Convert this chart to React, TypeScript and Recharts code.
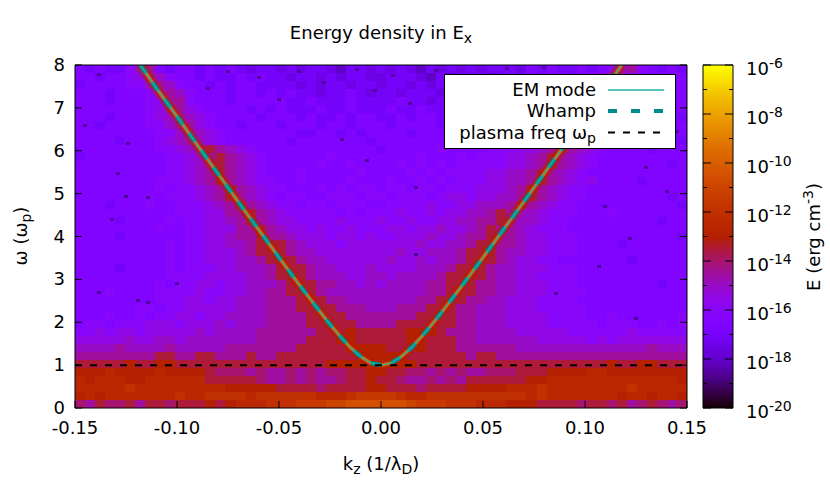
import React from 'react';
import { ComposedChart, Scatter, Line, XAxis, YAxis, Legend } from 'recharts';

const FONT = '"DejaVu Sans", sans-serif';
const W = 830, H = 498;
const PLOT = { left: 75, right: 687, top: 65, bottom: 408 };
const BAR = { left: 703, right: 733 };

const xTicks = [-0.15, -0.1, -0.05, 0, 0.05, 0.1, 0.15];
const yTicks = [0, 1, 2, 3, 4, 5, 6, 7, 8];
const barTicks = [-20, -19, -18, -17, -16, -15, -14, -13, -12, -11, -10, -9, -8, -7, -6];

// log10(E) for each letter of the table below
const levelCodes = 'abcdefghijklmnopqrs'.split('');
const levelExponents = [-19, -18, -17.5, -17, -16.5, -16, -15.5, -15, -14.5, -14, -13.5, -13, -12.5, -12, -11.5, -11, -10.5, -10, -9.5];

// energy density: one row per omega bin (top to bottom), one letter per kz bin
const energyRows = [
  'ededdfhied eedededcdd cdcddcbddc dcdcbdcdcd cdddcededd edefhifede d',
  'eedeefgihf eededdeded dcddcdcddc cdddcbdcdd dcdededeed efgihfedee e',
  'deeeeffhih feededeedd ddcdcddcdd cddcdcddcd ddedeeedee ghihgfeede e',
  'eeedeeefhi hfeeedeede deddcddedc ddcdddcded deeedeeefg ghihfeeede e',
  'eeedeeeffi ifeeedeeee eddedddedd ddeddcdded eeeeeeeffg hihgfeeede e',
  'eeeeeeefgi igfeeeeded edddeddedd deddeddded deeeeeeffg iigfeeedee e',
  'eeedeeefgh ihgfeeeede eededdedee ddedeedeed eeeeeeffgh ihgfeeeeee d',
  'eedeeeeffh iigfeedeee deeedeedee edeeeedeee eeeeeffggi ihgfeedeee e',
  'eeeeeeeeff hihgfeeeee eeddeedede eeedeeeeee eeeffgghii hgfeeedeee e',
  'eeeedeeefg hihgfeeeee edeeeeeeed eeeeeeeeef eefffgghik igfeeeeeee d',
  'eeeeeeeeff ghikihgfee eeeeeeeeee deeeeefeee efffgghiki hgfeeeedee e',
  'deeeeeeeef fghikihgfe eeeeefeeee eeeefeeefe fffgghikih gfeeeeeeee e',
  'eeeeeeeeef fghikihgfe eeeefeefee eefefefeff fffgghikih gfeeeeeeed e',
  'eeeeeeeeef fghikihgfe eefeeeeefe eeefefefff fgghhikihg feeeeeeeee e',
  'eeeeeeeeff fghikihgff eefeeeefee efeefefeff fgghhikihg fgeeeedeee e',
  'eeeeeeeefe ffghikihgf feeefefeff effeffefff ggghikihgf feeeeeeeee e',
  'eeeeeeefef ffghikihgf effeefffef fefffefggf gghhikihgf feeeeeeeed e',
  'eeedeeefee fffghikihg ffeffefffe effffgffgg hhhikihgff eeeeeeeeee d',
  'eeeeeeeeee fffggiikih gfffffefef ffgffgfggh hikihhgfff eeefeeeeee e',
  'eeeedeeeef effgghikih ggffffgfff gffgffgghh iikihhgffe eeeeeeeede e',
  'eeeeeeeefe effgggiiki hggfgffgff fggfgghggh ikiihgfffe eeeeeeeeee e',
  'eeeedeeeee effgghiiki ihgggfggfg ffggghgghi ikiihggfff eeeeeeeeee d',
  'eeeeeeeeef effgghhikk kihgggfggg gggghgghhi kkiihggfff eeeedeeeee e',
  'eeeeeeeeef effggghikk kihhgggggg gghgghhhik kkihhggfff eeeeeeeeee e',
  'eeeeeeeeef effggghhik kkihhggggg ghgghghhik kkihggffee eeeeedeeee e',
  'eeeedeeeef efffgghhhi kkkihhgggh gggghhhikk kihhgggfff eeeeeeeeee e',
  'eeeeeeeeef fffgggghhi kkkihhhggh hghhhhikkk kihhggffff eeeeeeeeee e',
  'eeeeeeeefe ffggfgghhh ikkkiihhgh ghhhhiikkk iihhgggfff eeeeeeeede e',
  'eeefeeeeff ffgffgghhi ikkkihhhhh hhhhhiikkk iihhgggfff feeeeeeeee e',
  'eeeeeeeeff fggfgghhhi iikkkiihhh hhhhiikkki ihhgggffff eeeeeeeeee e',
  'eeeeeeffef fggggghhhi iikkkkiiih hhiiikkkii hhhgggffff feeeeeeeee e',
  'eeefeefeff ggfgghhhhi iiikkkkiii iiiikkkkii hhhggggfff feefeeeeee f',
  'effefffggg fggghghhhi iiikkkkkii iikkkkkkii hhhggggfff ffefffeefe f',
  'ffgfggfggg gghghhhhii iiiikkklkk kkklllkiii hhhhgggggf fffffgffff f',
  'ggggghgghh ghhhhhhhii iiikkkllkk kkkllkkkii hhhhhhgggg gfgfgggggg g',
  'hhhhihhhhi hhhhhiiiii iikkkkklll lkkklkkkii iiiihhhhhh hhhhhhhihh h',
  'iiiiiiiikk iikkiiikii kkkkkkkkll lllkkkkkki kkiiiiiiii iiiiiiiiii i',
  'kkkkklkkll kkkkkkkkkk kkkkkllllm mmllkkkkkk kkkkkkkkkk kkklkkllkk k',
  'lllmllllml lllkjjjiji ijijijjkkl lkkjjijiji ijjjkkklll lmmlllllll l',
  'mlmmmllmmm mmmkkkkkji ijijiijkkl kkjiijijik kkkkkllmmm mmmmmmmmmm l',
  'mmmmmnmmmm mmmmmlllll kkkkjkkkkl lkkkjkkkkl lllmmmnmmm mmmmmnmmmm m',
  'lmlmmmmmmm nmmnnnnmnn nnnnmmmnoo oonmmnnnnn nnnnnmnmmm mmmmlmmlmm l',
  'jikjjkikkj kkklklmmmn nnoooppqqq qqqpooonnn mmmlllkkkk jkkjkijkji j',
];

// dark specks
const speckK = [-0.138, -0.019, -0.007, -0.129, -0.114, -0.125, -0.124, -0.138, -0.119, -0.114, 0.017, 0.017, 0.086, 0.125, 0.107, -0.04, -0.028, -0.012, -0.003, 0.006, 0.014, 0.027, 0.036, 0.048, 0.062, 0.073, -0.06, -0.05, -0.075, -0.085, 0.135, 0.145, 0.13, -0.145, -0.132, 0.08, 0.11, 0.122, 0.14, -0.1];
const speckOmega = [7.77, 6.27, 5.78, 5.46, 4.9, 4.93, 6.18, 2.7, 2.5, 2.47, 5.15, 3.57, 2.66, 2.08, 3.29, 7.85, 7.6, 7.9, 7.4, 7.75, 7.1, 7.88, 7.3, 7.65, 7.92, 7.5, 7.7, 7.2, 7.86, 7.45, 7.75, 6.45, 5.6, 6.6, 4.4, 7.95, 4.7, 3.95, 5.05, 2.9];

// dispersion curve
const kz = [-0.118, -0.11, -0.1, -0.09, -0.08, -0.07, -0.06, -0.05, -0.04, -0.03, -0.025, -0.02, -0.015, -0.01, -0.005, 0, 0.005, 0.01, 0.015, 0.02, 0.025, 0.03, 0.04, 0.05, 0.06, 0.07, 0.08, 0.09, 0.1, 0.11, 0.118];
const emOmega = [8, 7.45, 6.8, 6.13, 5.47, 4.81, 4.16, 3.51, 2.87, 2.25, 1.95, 1.67, 1.41, 1.2, 1.05, 1, 1.05, 1.2, 1.41, 1.67, 1.95, 2.25, 2.87, 3.51, 4.16, 4.81, 5.47, 6.13, 6.8, 7.45, 8];
const whampOmega = [8, 7.45, 6.8, 6.13, 5.47, 4.81, 4.16, 3.51, 2.87, 2.25, 1.95, 1.67, 1.41, 1.2, 1.05, 1, 1.05, 1.2, 1.41, 1.67, 1.95, 2.25, 2.87, 3.51, 4.16, 4.81, 5.47, 6.13, 6.8, 7.45, 8];
const ridgeOmega = [8, 7.45, 6.8, 6.13, 5.47, 4.81, 4.16, 3.51, 2.87, 2.25, 1.95, 1.67, 1.41, 1.2, 1.05, 1, 1.05, 1.2, 1.41, 1.67, 1.95, 2.25, 2.87, 3.51, 4.16, 4.81, 5.47, 6.13, 6.8, 7.45, 8];
const plasmaK = [-0.15, 0.15];
const plasmaOmega = [1, 1];

const colour = (e: number) => {
  const t = Math.max(0, Math.min(1, (e + 20) / 14));
  const r = Math.sqrt(t);
  const g = t * t * t;
  const b = Math.max(0, Math.sin(2 * Math.PI * t));
  return `rgb(${Math.round(r * 255)},${Math.round(g * 255)},${Math.round(b * 255)})`;
};

const cleanRows = energyRows.map((r) => r.replace(/ /g, ''));
const nCols = 61;
const nRows = cleanRows.length;
const cells = cleanRows.flatMap((row, r) =>
  row.split('').map((c, i) => ({
    x: -0.15 + ((i + 0.5) * 0.3) / nCols,
    y: 8 - ((r + 0.5) * 8) / nRows,
    e: levelExponents[levelCodes.indexOf(c)],
  })),
);
const cellW = (PLOT.right - PLOT.left) / nCols;
const cellH = (PLOT.bottom - PLOT.top) / nRows;

const barSteps = Array.from({ length: 112 }, (_, i) => ({ x: 0.5, y: -20 + (i + 0.5) * 0.125, e: -20 + (i + 0.5) * 0.125 }));
const barStepH = (PLOT.bottom - PLOT.top) / barSteps.length;
const barW = BAR.right - BAR.left;

const points = (xs: number[], ys: number[]) => xs.map((x, i) => ({ x, y: ys[i] }));

const CellMark = (p: any) => (
  <rect x={p.cx - cellW / 2} y={p.cy - cellH / 2} width={cellW + 0.6} height={cellH + 0.6} fill={colour(p.payload.e)} shapeRendering="crispEdges" />
);
const SpeckMark = (p: any) => <rect x={p.cx - 2} y={p.cy - 1.5} width={4} height={3} fill={colour(-18.5)} shapeRendering="crispEdges" />;
const BarMark = (p: any) => (
  <rect x={p.cx - barW / 2} y={p.cy - barStepH / 2} width={barW} height={barStepH + 0.6} fill={colour(p.payload.e)} shapeRendering="crispEdges" />
);

const textStyle = { fontFamily: FONT, fontSize: 18, fill: '#000' };

const BottomTick = ({ x, y, payload }: any) => (
  <g>
    <line x1={x} x2={x} y1={y} y2={y - 7} stroke="#000" />
    <text x={x} y={y + 26} textAnchor="middle" {...textStyle}>{payload.value.toFixed(2)}</text>
  </g>
);
const TopTick = ({ x, y }: any) => <line x1={x} x2={x} y1={y} y2={y + 7} stroke="#000" />;
const LeftTick = ({ x, y, payload }: any) => (
  <g>
    <line x1={x} x2={x + 7} y1={y} y2={y} stroke="#000" />
    <text x={x - 10} y={y + 6} textAnchor="end" {...textStyle}>{payload.value}</text>
  </g>
);
const RightTick = ({ x, y }: any) => <line x1={x} x2={x - 7} y1={y} y2={y} stroke="#000" />;
const barLen = (v: number) => (v % 2 === 0 ? 8 : 4);
const BarRightTick = ({ x, y, payload }: any) => (
  <g>
    <line x1={x} x2={x - barLen(payload.value)} y1={y} y2={y} stroke="#000" />
    {payload.value % 2 === 0 && (
      <text x={x + 13} y={y + 10} {...textStyle}>
        10<tspan dy={-7} fontSize={14}>{payload.value}</tspan>
      </text>
    )}
  </g>
);
const BarLeftTick = ({ x, y, payload }: any) => <line x1={x} x2={x + barLen(payload.value)} y1={y} y2={y} stroke="#000" />;

const LegendBox = () => (
  <svg width={233} height={76} style={{ display: 'block', fontFamily: FONT }}>
    <rect x={0.5} y={0.5} width={231} height={74} fill="#fff" stroke="#000" />
    <text x={152} y={22} textAnchor="end" {...textStyle}>EM mode</text>
    <line x1={164} x2={220} y1={16} y2={16} stroke="#20b2aa" strokeWidth={1.5} />
    <text x={152} y={43} textAnchor="end" {...textStyle}>Whamp</text>
    <line x1={164} x2={220} y1={37} y2={37} stroke="#008b8b" strokeWidth={4} strokeDasharray="9 14" />
    <text x={152} y={65} textAnchor="end" {...textStyle}>plasma freq ω<tspan dy={4} fontSize={14}>p</tspan></text>
    <line x1={164} x2={220} y1={58.5} y2={58.5} stroke="#000" strokeWidth={2} strokeDasharray="7 8" />
  </svg>
);

const ax = { tickSize: 0, tickMargin: 0, tickLine: false, interval: 0 as const, axisLine: { stroke: '#000' }, allowDataOverflow: true };

export default function App() {
  return (
    <div style={{ position: 'absolute', left: 0, top: 0, width: W, height: H, background: '#fff' }}>
      <div style={{ position: 'absolute', left: 0, top: 0 }}>
        <ComposedChart width={W} height={H} margin={{ left: PLOT.left - 40, right: W - PLOT.right - 1, top: PLOT.top - 1, bottom: H - PLOT.bottom - 40 }}>
          <Scatter data={cells} shape={CellMark} isAnimationActive={false} zIndex={100} />
          <Scatter data={points(speckK, speckOmega)} shape={SpeckMark} isAnimationActive={false} zIndex={110} />
          <Line data={points(kz, ridgeOmega)} dataKey="y" dot={false} stroke="#b42000" strokeOpacity={0.6} strokeWidth={10} isAnimationActive={false} zIndex={120} />
          <Line data={points(kz, ridgeOmega)} dataKey="y" dot={false} stroke="#dc6400" strokeWidth={3.5} isAnimationActive={false} zIndex={130} />
          <Line data={points(kz, whampOmega)} dataKey="y" dot={false} stroke="#008b8b" strokeWidth={4.5} strokeDasharray="10 11" isAnimationActive={false} zIndex={140} />
          <Line data={points(kz, emOmega)} dataKey="y" dot={false} stroke="#20b2aa" strokeWidth={1.2} isAnimationActive={false} zIndex={150} />
          <Line data={points(plasmaK, plasmaOmega)} dataKey="y" dot={false} stroke="#000" strokeWidth={2} strokeDasharray="7 8" isAnimationActive={false} zIndex={160} />
          <XAxis dataKey="x" type="number" domain={[-0.15, 0.15]} ticks={xTicks} height={40} tick={BottomTick} {...ax} />
          <XAxis xAxisId="top" orientation="top" type="number" domain={[-0.15, 0.15]} ticks={xTicks} height={1} tick={TopTick} {...ax} />
          <YAxis dataKey="y" type="number" domain={[0, 8]} ticks={yTicks} width={40} tick={LeftTick} {...ax} />
          <YAxis yAxisId="right" orientation="right" type="number" domain={[0, 8]} ticks={yTicks} width={1} tick={RightTick} {...ax} />
          <Legend layout="vertical" align="center" verticalAlign="middle" content={LegendBox} wrapperStyle={{ position: 'absolute', left: 444, top: 74, width: 233, height: 76, margin: 0 }} />
          <text x={381} y={39} textAnchor="middle" {...textStyle}>Energy density in E<tspan dy={4} fontSize={14}>x</tspan></text>
          <text x={381} y={470} textAnchor="middle" {...textStyle}>k<tspan dy={4} fontSize={14}>z</tspan><tspan dy={-4}> (1/λ</tspan><tspan dy={4} fontSize={14}>D</tspan><tspan dy={-4}>)</tspan></text>
          <text transform="translate(27,236) rotate(-90)" textAnchor="middle" {...textStyle}>ω (ω<tspan dy={4} fontSize={14}>p</tspan><tspan dy={-4}>)</tspan></text>
          <text transform="translate(820,237) rotate(-90)" textAnchor="middle" {...textStyle}>E (erg cm<tspan dy={-7} fontSize={14}>-3</tspan><tspan dy={7}>)</tspan></text>
        </ComposedChart>
      </div>
      <div style={{ position: 'absolute', left: 0, top: 0 }}>
        <ComposedChart width={W} height={H} margin={{ left: BAR.left - 1, right: W - BAR.right - 1, top: PLOT.top - 1, bottom: H - PLOT.bottom - 1 }}>
          <Scatter data={barSteps} shape={BarMark} isAnimationActive={false} zIndex={100} />
          <XAxis dataKey="x" type="number" domain={[0, 1]} ticks={[]} height={1} tick={false} tickLine={false} axisLine={{ stroke: '#000' }} />
          <XAxis xAxisId="top" orientation="top" type="number" domain={[0, 1]} ticks={[]} height={1} tick={false} tickLine={false} axisLine={{ stroke: '#000' }} />
          <YAxis dataKey="y" type="number" domain={[-20, -6]} ticks={barTicks} width={1} tick={BarLeftTick} {...ax} />
          <YAxis yAxisId="right" orientation="right" type="number" domain={[-20, -6]} ticks={barTicks} width={1} tick={BarRightTick} {...ax} />
        </ComposedChart>
      </div>
    </div>
  );
}
